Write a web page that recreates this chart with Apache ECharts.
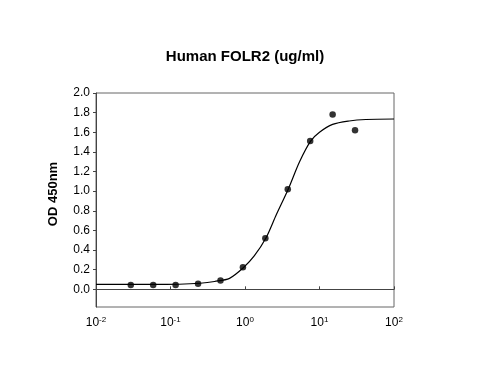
<!DOCTYPE html>
<html>
<head>
<meta charset="utf-8">
<script src="https://cdn.jsdelivr.net/npm/echarts@6/dist/echarts.min.js"></script>
<style>html,body{margin:0;padding:0;background:#fff}#c{width:502px;height:366px}</style>
</head>
<body>
<div id="c"></div>
<script>
var titleText = 'Human FOLR2 (ug/ml)';
var yAxisTitle = 'OD 450nm';
var concentrations = [30, 15, 7.5, 3.75, 1.875, 0.9375, 0.46875, 0.234375, 0.1171875, 0.05859375, 0.029296875];
var odValues = [1.62, 1.78, 1.51, 1.02, 0.52, 0.225, 0.09, 0.057, 0.044, 0.044, 0.044];
var fitX = [0.01, 0.02, 0.05, 0.13, 0.25, 0.39, 0.62, 0.95, 1.33, 1.9, 2.63, 3.8, 5.4, 7.6, 10, 15, 25, 42, 100];
var fitY = [0.05, 0.05, 0.05, 0.052, 0.062, 0.08, 0.112, 0.22, 0.34, 0.52, 0.76, 1.02, 1.30, 1.51, 1.60, 1.68, 1.715, 1.73, 1.735];
var yTicks = [0, 0.2, 0.4, 0.6, 0.8, 1.0, 1.2, 1.4, 1.6, 1.8, 2.0];

var chart = echarts.init(document.getElementById('c'), null, {renderer: 'canvas'});
var font = 'Liberation Sans, Arial, sans-serif';
chart.setOption({
  animation: false,
  backgroundColor: '#fff',
  title: {
    text: titleText,
    left: 240, top: 44, textAlign: 'center',
    textStyle: {fontFamily: font, fontSize: 15, fontWeight: 'bold', color: '#000'}
  },
  grid: {left: 96, right: 108, top: 93, bottom: 59, show: true, borderColor: '#666', borderWidth: 1},
  xAxis: {
    type: 'log', logBase: 10, min: 0.01, max: 100,
    axisLine: {show: true, lineStyle: {color: '#444', width: 1}},
    axisTick: {show: true, inside: true, length: 3, lineStyle: {color: '#444'}},
    minorTick: {show: false},
    splitLine: {show: false},
    axisLabel: {
      margin: 9, color: '#000', fontFamily: font, fontSize: 12,
      formatter: function (v) {
        var e = Math.round(Math.log10(v));
        return '{b|10}{s|' + e + '}';
      },
      rich: {
        b: {fontFamily: font, fontSize: 12, color: '#000'},
        s: {fontFamily: font, fontSize: 8, color: '#000', verticalAlign: 'top', padding: [0, 0, 6, 0]}
      }
    }
  },
  yAxis: {
    type: 'value', min: -0.18, max: 2.0,
    name: yAxisTitle, nameLocation: 'middle', nameGap: 36, nameRotate: 90,
    nameTextStyle: {fontFamily: font, fontSize: 13, fontWeight: 'bold', color: '#000', padding: [0, 0, 0, 12]},
    axisLine: {show: true, lineStyle: {color: '#444', width: 1}},
    axisTick: {show: true, inside: false, length: 3, customValues: yTicks, lineStyle: {color: '#444'}},
    splitLine: {show: false},
    axisLabel: {
      customValues: yTicks, margin: 6, color: '#000', fontFamily: font, fontSize: 12,
      formatter: function (v) { return v.toFixed(1); }
    }
  },
  series: [
    {
      type: 'line', smooth: 0.3, symbol: 'none',
      data: fitX.map(function (x, i) { return [x, fitY[i]]; }),
      lineStyle: {color: '#000', width: 1.2}, z: 2
    },
    {
      type: 'scatter', symbol: 'circle', symbolSize: 6.5,
      data: concentrations.map(function (x, i) { return [x, odValues[i]]; }),
      itemStyle: {color: '#000'}, z: 3
    }
  ]
});
</script>
</body>
</html>
